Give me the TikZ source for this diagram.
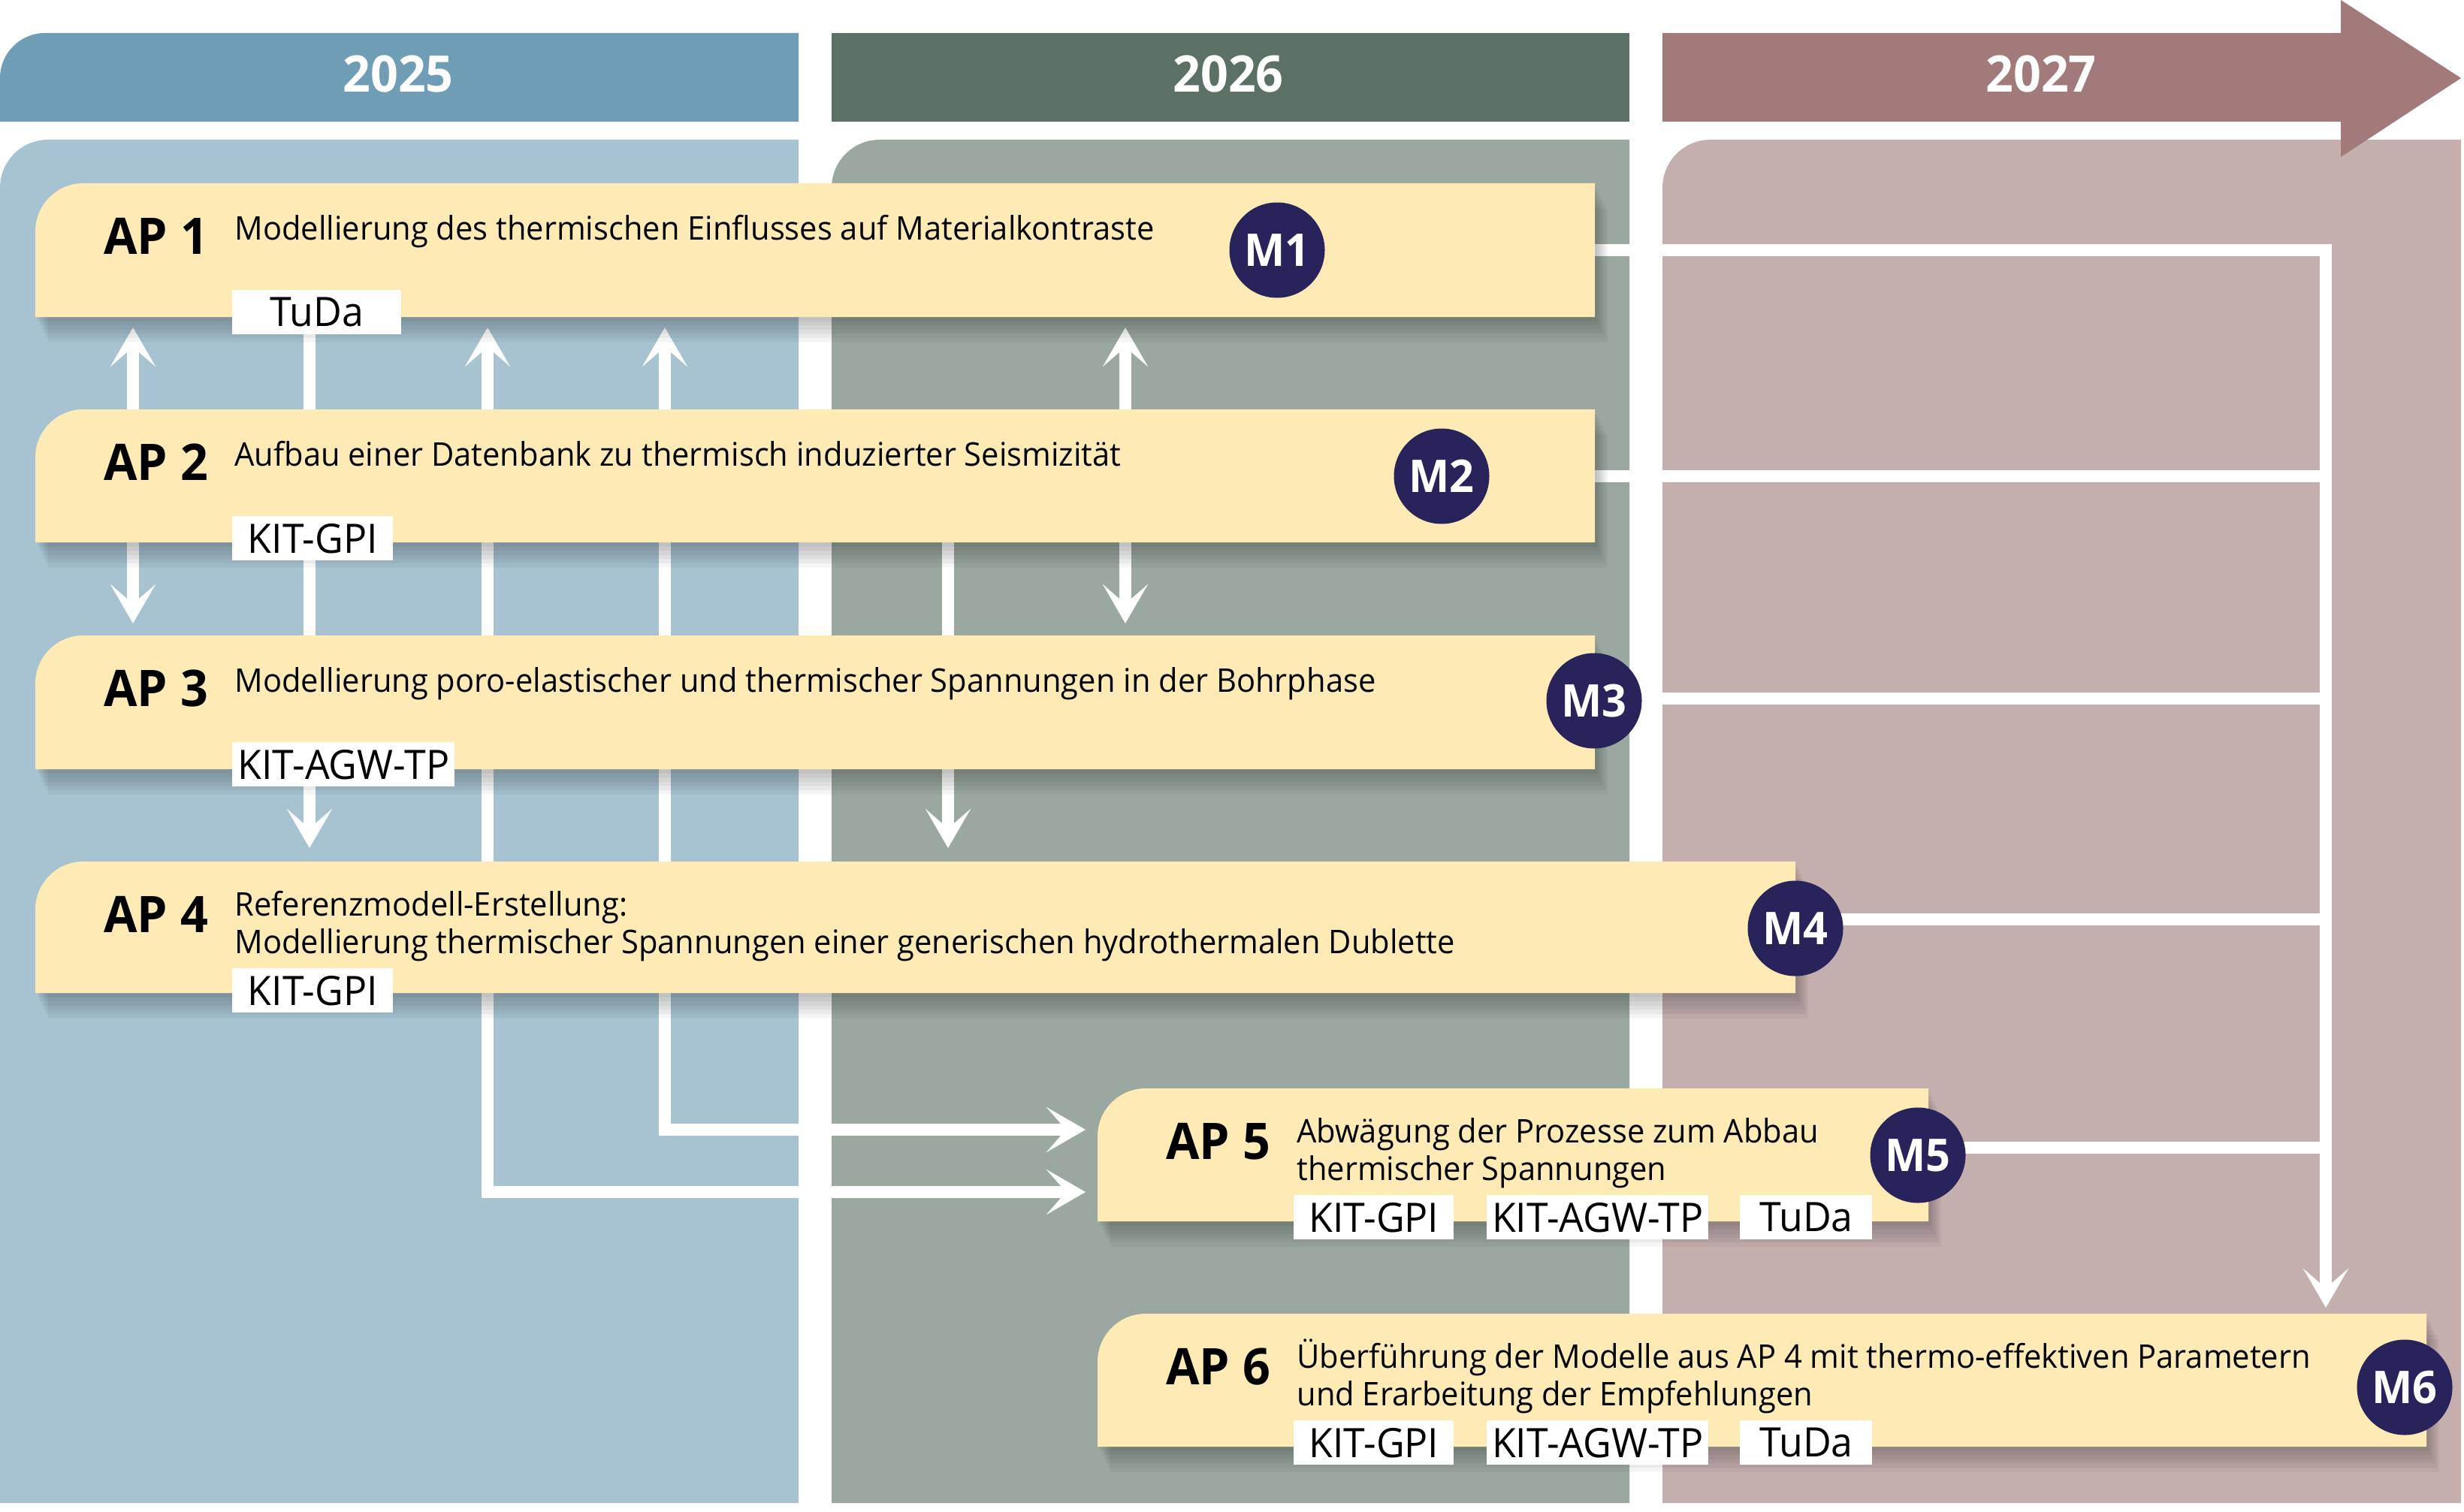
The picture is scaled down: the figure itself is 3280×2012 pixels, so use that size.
\documentclass[tikz,border=0pt]{standalone}
\usepackage{fontspec}
\setmainfont{Open Sans}[FakeStretch=0.96]
\usetikzlibrary{arrows.meta}
\definecolor{hA}{HTML}{6E9DB5}
\definecolor{pA}{HTML}{A7C3D1}
\definecolor{hB}{HTML}{5A7163}
\definecolor{pB}{HTML}{9BA89F}
\definecolor{hC}{HTML}{A27A79}
\definecolor{pC}{HTML}{C5AEAE}
\definecolor{boxfill}{HTML}{FEEAB5}
\definecolor{navy}{HTML}{29235C}
\pgfdeclarelayer{panels}
\pgfdeclarelayer{links}
\pgfsetlayers{panels,links,main}
\newcommand\apbox[5]{%
  \node[apnode,minimum width={(#4-#2)*0.5pt},minimum height={(#5-#3)*0.5pt},anchor=north west] (#1) at (#2,#3) {};
  \foreach \s in {1,...,6}{%
    \fill[black,opacity=0.045,shift={(\s*1.4pt,-\s*2.8pt)}]
      (#2,#5) [rounded corners=32pt] -- (#2,#3) [sharp corners] -- (#4,#3) -- (#4,#5) -- cycle;}
  \fill[boxfill] (#1.south west) [rounded corners=32pt] -- (#1.north west) [sharp corners] -- (#1.north east) -- (#1.south east) -- cycle;}
\begin{document}
\begin{tikzpicture}[x=0.5pt,y=-0.5pt,
  apnode/.style={inner sep=0pt,outer sep=0pt,draw=none},
  yeartext/.style={text=white,font=\fontsize{33.6}{40}\selectfont\bfseries,inner sep=0pt},
  aplabel/.style={font=\fontsize{33.6}{40}\selectfont\bfseries,inner sep=0pt,anchor=base west},
  desc/.style={font=\fontsize{21.7}{25}\selectfont,inner sep=0pt,anchor=base west},
  tag/.style={fill=white,inner sep=0pt,minimum height=29.5pt,anchor=north west,font=\fontsize{27}{30}\selectfont},
  mstone/.style={circle,fill=navy,text=white,minimum size=63.5pt,inner sep=0pt,font=\fontsize{30}{36}\selectfont\bfseries},
  conn/.style={draw=white,line width=8pt},
  >={Stealth[length=26pt,width=30pt,inset=13pt]}
]
\begin{pgfonlayer}{panels}
\fill[white] (0,0) rectangle (3280,2012);
\useasboundingbox (0,0) rectangle (3280,2012);
% body panels
\fill[pA] (0,2001) [rounded corners=32pt] -- (0,186) [sharp corners] -- (1063,186) -- (1063,2001) -- cycle;
\fill[pB] (1107,2001) [rounded corners=32pt] -- (1107,186) [sharp corners] -- (2169,186) -- (2169,2001) -- cycle;
\fill[pC] (2213,2001) [rounded corners=32pt] -- (2213,186) [sharp corners] -- (3276,186) -- (3276,2001) -- cycle;
% headers
\fill[hA] (0,162) [rounded corners=30pt] -- (0,44) [sharp corners] -- (1063,44) -- (1063,162) -- cycle;
\fill[hB] (1107,44) rectangle (2169,162);
\fill[hC] (2213,44) -- (3116,44) -- (3116,0) -- (3276,104) -- (3116,209) -- (3116,162) -- (2213,162) -- cycle;
\node[yeartext] (y25) at (530,98) {2025};
\node[yeartext] (y26) at (1635,98) {2026};
\node[yeartext] (y27) at (2717,98) {2027};
\end{pgfonlayer}

% work package boxes
\apbox{ap1}{47}{244}{2123}{422}
\apbox{ap2}{47}{545}{2123}{722}
\apbox{ap3}{47}{846}{2123}{1024}
\apbox{ap4}{47}{1147}{2390}{1322}
\apbox{ap5}{1461}{1449}{2567}{1626}
\apbox{ap6}{1461}{1749}{3230}{1926}

% labels
\node[aplabel] (l1) at ([xshift=45.5pt,yshift=-47pt]ap1.north west) {AP 1};
\node[aplabel] (l2) at ([xshift=45.5pt,yshift=-47pt]ap2.north west) {AP 2};
\node[aplabel] (l3) at ([xshift=45.5pt,yshift=-47pt]ap3.north west) {AP 3};
\node[aplabel] (l4) at ([xshift=45.5pt,yshift=-47pt]ap4.north west) {AP 4};
\node[aplabel] (l5) at ([xshift=45.5pt,yshift=-47pt]ap5.north west) {AP 5};
\node[aplabel] (l6) at ([xshift=45.5pt,yshift=-47pt]ap6.north west) {AP 6};

\node[desc] (d1) at ([xshift=132.5pt,yshift=-37.5pt]ap1.north west) {Modellierung des thermischen Einflusses auf Materialkontraste};
\node[desc] (d2) at ([xshift=132.5pt,yshift=-37.5pt]ap2.north west) {Aufbau einer Datenbank zu thermisch induzierter Seismizität};
\node[desc] (d3) at ([xshift=132.5pt,yshift=-37.5pt]ap3.north west) {Modellierung poro-elastischer und thermischer Spannungen in der Bohrphase};
\node[desc] (d4) at ([xshift=132.5pt,yshift=-36pt]ap4.north west) {\begin{tabular}[t]{@{}l@{}}Referenzmodell-Erstellung:\\Modellierung thermischer Spannungen einer generischen hydrothermalen Dublette\end{tabular}};
\node[desc] (d5) at ([xshift=132.5pt,yshift=-36pt]ap5.north west) {\begin{tabular}[t]{@{}l@{}}Abwägung der Prozesse zum Abbau\\thermischer Spannungen\end{tabular}};
\node[desc] (d6) at ([xshift=132.5pt,yshift=-36pt]ap6.north west) {\begin{tabular}[t]{@{}l@{}}Überführung der Modelle aus AP 4 mit thermo-effektiven Parametern\\und Erarbeitung der Empfehlungen\end{tabular}};

% partner tags
\node[tag,minimum width=112.5pt] (t1) at ([xshift=131pt,yshift=-71pt]ap1.north west) {TuDa};
\node[tag,minimum width=107pt] (t2) at ([xshift=131pt,yshift=-71pt]ap2.north west) {KIT-GPI};
\node[tag,minimum width=148pt] (t3) at ([xshift=131pt,yshift=-71pt]ap3.north west) {KIT-AGW-TP};
\node[tag,minimum width=107pt] (t4) at ([xshift=131pt,yshift=-71pt]ap4.north west) {KIT-GPI};
\node[tag,minimum width=106.5pt] (t5a) at ([xshift=130.5pt,yshift=-71pt]ap5.north west) {KIT-GPI};
\node[tag,minimum width=147.5pt] (t5b) at ([xshift=259pt,yshift=-71pt]ap5.north west) {KIT-AGW-TP};
\node[tag,minimum width=88pt] (t5c) at ([xshift=427.5pt,yshift=-71pt]ap5.north west) {TuDa};
\node[tag,minimum width=106.5pt] (t6a) at ([xshift=130.5pt,yshift=-71pt]ap6.north west) {KIT-GPI};
\node[tag,minimum width=147.5pt] (t6b) at ([xshift=259pt,yshift=-71pt]ap6.north west) {KIT-AGW-TP};
\node[tag,minimum width=88pt] (t6c) at ([xshift=427.5pt,yshift=-71pt]ap6.north west) {TuDa};

% milestones
\node[mstone] (m1) at (1700,333) {M1};
\node[mstone] (m2) at (1919,634) {M2};
\node[mstone] (m3) at (2122,933) {M3};
\node[mstone] (m4) at (2390,1236) {M4};
\node[mstone] (m5) at (2553,1538) {M5};
\node[mstone] (m6) at (3201,1847) {M6};

% connectors
\begin{pgfonlayer}{links}
\coordinate (rail) at ([xshift=-67pt]ap6.north east);
\coordinate (a1) at ([xshift=65pt]ap1.south west);
\coordinate (a3) at ([xshift=65pt]ap3.north west);
\draw[conn,<->,shorten <=7pt,shorten >=8pt] (a1) -- (a3);
\coordinate (b1) at ([xshift=182.5pt]ap1.south west);
\coordinate (b4) at ([xshift=182.5pt]ap4.north west);
\draw[conn,->,shorten >=9pt] (b1) -- (b4);
\coordinate (c1) at ([xshift=301pt]ap1.south west);
\coordinate (c5) at ([yshift=-69pt]ap5.north west);
\draw[conn,<->,shorten <=7pt,shorten >=8pt,line join=miter] (c1) -- (c1 |- c5) -- (c5);
\coordinate (e1) at ([xshift=419pt]ap1.south west);
\coordinate (e5) at ([yshift=-27.5pt]ap5.north west);
\draw[conn,<->,shorten <=7pt,shorten >=8pt,line join=miter] (e1) -- (e1 |- e5) -- (e5);
\coordinate (f2) at ([xshift=607.5pt]ap2.south west);
\coordinate (f4) at ([xshift=607.5pt]ap4.north west);
\draw[conn,->,shorten >=9pt] (f2) -- (f4);
\coordinate (g1) at ([xshift=725.5pt]ap1.south west);
\coordinate (g3) at ([xshift=725.5pt]ap3.north west);
\draw[conn,<->,shorten <=7pt,shorten >=8pt] (g1) -- (g3);
% milestone rail
\draw[conn,->,line join=miter,shorten >=4pt] (ap1.east) -- (ap1.east -| rail) -- (rail);
\draw[conn] (ap2.east) -- (ap2.east -| rail);
\coordinate (m3o) at ([yshift=1.5pt]m3.center);
\draw[conn] (m3o) -- (m3o -| rail);
\coordinate (m4o) at ([yshift=6pt]m4.center);
\draw[conn] (m4o) -- (m4o -| rail);
\coordinate (m5o) at ([yshift=5pt]m5.center);
\draw[conn] (m5o) -- (m5o -| rail);
\end{pgfonlayer}
\end{tikzpicture}
\end{document}
